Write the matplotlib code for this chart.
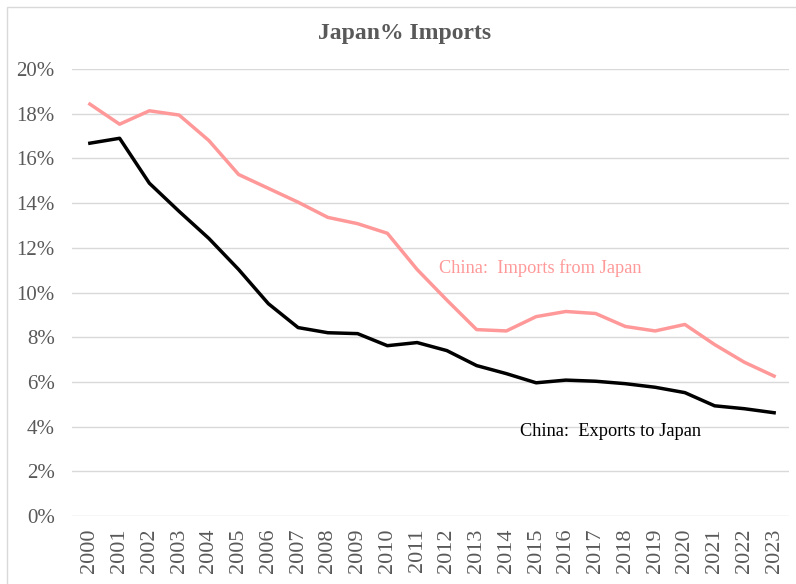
import matplotlib.pyplot as plt
from matplotlib.patches import Rectangle

years = [str(y) for y in range(2000, 2024)]
imports_from_japan = [18.43, 17.53, 18.13, 17.94, 16.8, 15.28, 14.66, 14.04, 13.36, 13.08,
                      12.65, 11.03, 9.66, 8.34, 8.28, 8.92, 9.15, 9.06, 8.48, 8.28,
                      8.57, 7.67, 6.88, 6.26]
exports_to_japan = [16.68, 16.9, 14.89, 13.63, 12.42, 11.03, 9.5, 8.43, 8.2, 8.16,
                    7.62, 7.76, 7.4, 6.73, 6.37, 5.96, 6.08, 6.03, 5.92, 5.76,
                    5.52, 4.93, 4.8, 4.62]
yticks = [0, 2, 4, 6, 8, 10, 12, 14, 16, 18, 20]

plt.rcParams['font.family'] = ['Liberation Serif', 'DejaVu Serif']

W, H = 796, 584
fig = plt.figure(figsize=(W / 100, H / 100), dpi=100)
fig.patches.append(Rectangle((7 / W, -0.1), 1.2, (H - 7) / H + 0.1, transform=fig.transFigure,
                             fill=False, edgecolor='#d9d9d9', linewidth=1.0))

left, right, top, bottom = 72, 789, 69, 516
ax = fig.add_axes([left / W, 1 - bottom / H, (right - left) / W, (bottom - top) / H])

x = list(range(len(years)))
ax.plot(x, imports_from_japan, color='#FF9999', linewidth=2.5, solid_joinstyle='round')
ax.plot(x, exports_to_japan, color='#000000', linewidth=2.5, solid_joinstyle='round')

ax.set_xlim(-0.6, len(years) - 0.5)
ax.set_ylim(0, 20)
ax.set_yticks(yticks)
ax.set_yticklabels([f"{v}%" for v in yticks])
ax.set_xticks(x)
ax.set_xticklabels(years, rotation=90)
ax.tick_params(axis='both', length=0, colors='#595959')
ax.tick_params(axis='y', pad=12.5, labelsize=15)
ax.tick_params(axis='x', pad=9, labelsize=16)
ax.grid(axis='y', color='#d9d9d9', linewidth=1.0)
ax.set_axisbelow(True)
for s in ax.spines.values():
    s.set_visible(False)

fig.text(405 / W, 1 - 34 / H, "Japan% Imports", ha='center', va='center',
         fontsize=17, fontweight='bold', color='#595959')
ax.text(11.75, 11.1, "China:  Imports from Japan", color='#FF9999', fontsize=13.2,
        ha='left', va='center')
ax.text(14.45, 3.8, "China:  Exports to Japan", color='#000000', fontsize=13.2,
        ha='left', va='center')

fig.savefig('out.png', dpi=100)
